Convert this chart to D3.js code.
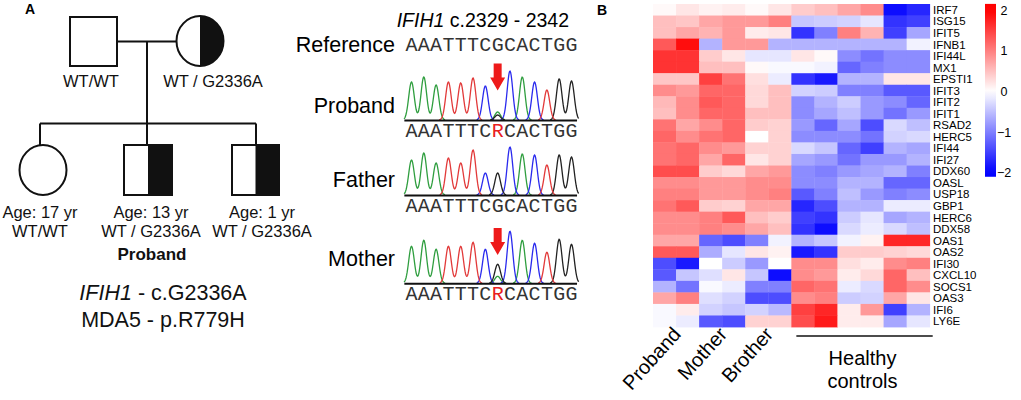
<!DOCTYPE html>
<html><head><meta charset="utf-8">
<script src="https://cdn.jsdelivr.net/npm/d3@7"></script>
<style>body{margin:0;background:#fff}svg{display:block;font-family:"Liberation Sans",Arial,sans-serif}</style>
</head><body><svg id="c" width="1021" height="400"></svg>
<script>
// ---------- DATA ----------
const genes = ["IRF7","ISG15","IFIT5","IFNB1","IFI44L","MX1","EPSTI1","IFIT3","IFIT2","IFIT1","RSAD2","HERC5","IFI44","IFI27","DDX60","OASL","USP18","GBP1","HERC6","DDX58","OAS1","OAS2","IFI30","CXCL10","SOCS1","OAS3","IFI6","LY6E"];
const samples = ["P1","P2","M1","M2","B1","B2","H1","H2","H3","H4","H5","H6"];
const groupLabels = ["Proband","Mother","Brother"];
const groupSamples = [["P1","P2"],["M1","M2"],["B1","B2"]];
const controlLabel = ["Healthy","controls"];
const controlSamples = ["H1","H2","H3","H4","H5","H6"];
const expr = [
 [0.05,0.2,0.1,0.15,0.05,0.2,0.4,0.5,0.7,0.9,-1.9,-1.7],
 [0.5,0.45,0.7,0.8,0.8,1.0,-0.45,-0.4,-0.35,-0.2,-1.6,-1.5],
 [0.5,0.7,0.6,0.8,0.15,0.2,-1.6,-1.0,1.0,0.6,-1.5,-0.7],
 [1.3,1.9,-0.6,0.8,0.8,-0.6,-0.6,-0.6,-0.6,-0.6,-0.6,-0.1],
 [1.6,1.6,0.4,0.2,-0.2,-0.2,0.2,0.05,-0.9,-1.1,-0.9,-0.9],
 [1.6,1.6,0.5,0.5,0.05,-0.05,-0.05,-0.1,-1.2,-1.0,-0.9,-0.9],
 [0.45,0.45,1.5,1.1,0.25,-0.15,-1.6,-1.8,-0.6,-0.6,0.2,0.2],
 [0.9,0.8,1.2,1.2,0.3,0.5,-0.35,-0.4,-1.0,-1.0,-1.3,-1.3],
 [0.55,0.9,1.3,1.2,0.3,0.5,-0.9,-0.6,-0.4,-0.8,-0.9,-1.2],
 [0.5,0.9,1.2,1.2,0.5,0.5,-0.9,-0.7,-0.5,-0.8,-1.1,-0.8],
 [1.1,0.7,0.9,1.2,0.4,0.35,-0.8,-1.2,-0.7,-1.4,-0.3,-0.5],
 [1.2,0.9,1.1,1.2,0.0,0.35,-0.9,-0.9,-0.9,-1.1,-0.35,-0.3],
 [1.1,1.2,0.9,0.8,0.35,0.35,-0.3,-0.45,-1.2,-1.5,-0.6,-0.7],
 [1.1,1.2,0.7,1.2,0.2,0.35,-0.7,-0.8,-1.1,-0.8,-0.8,-0.6],
 [1.4,1.4,0.4,0.3,0.7,0.8,-0.9,-1.0,-0.8,-0.7,-0.6,-1.0],
 [0.9,0.9,0.8,0.8,0.9,0.9,-0.9,-0.9,-0.6,-0.6,-1.2,-1.2],
 [1.0,1.0,0.8,0.8,0.9,1.0,-1.3,-1.0,-0.5,-0.8,-1.0,-0.9],
 [1.1,1.3,0.4,0.35,0.7,0.7,-1.7,-1.4,-0.6,-0.6,-0.15,-0.15],
 [0.9,0.9,1.0,1.3,0.5,0.4,-1.5,-1.6,-0.4,-0.2,-0.7,-0.6],
 [0.9,0.9,1.0,0.9,0.7,0.5,-1.6,-1.9,-0.3,-0.15,-0.3,-0.5],
 [0.7,0.7,-1.2,-1.4,-1.0,-0.1,-0.6,-0.45,-0.1,0.1,1.7,1.7],
 [1.3,1.3,-0.65,-0.2,0.2,0.1,-1.8,-1.6,0.4,0.4,0.35,0.3],
 [-1.4,-1.8,0.0,-0.4,-0.8,0.0,0.9,0.9,0.25,0.15,0.9,1.0],
 [-1.3,-0.45,-0.25,0.2,-0.45,-1.9,0.9,0.8,0.15,0.3,1.2,0.5],
 [-0.6,-1.1,-0.05,-0.15,-1.0,-1.0,1.2,1.1,-0.15,-0.3,1.2,0.9],
 [0.7,1.0,-0.25,-0.35,-1.4,-1.4,0.9,1.0,-0.4,-0.35,0.7,0.2],
 [-0.05,0.15,-0.35,-0.45,-0.35,-0.55,1.5,1.7,0.15,0.8,-1.5,-0.6],
 [-0.05,-0.15,-1.3,-1.4,0.35,0.35,1.4,1.8,0.15,0.15,-0.7,-0.2]
];
const legendTicks = [2,1,0,-1,-2];

// chromatograms
const refSeq = ["A","A","A","T","T","T","C","G","C","A","C","T","G","G"];
const probandCalls = ["A","A","A","T","T","T","C","R","C","A","C","T","G","G"];
const motherCalls  = ["A","A","A","T","T","T","C","R","C","A","C","T","G","G"];
const fatherCalls  = ["A","A","A","T","T","T","C","G","C","A","C","T","G","G"];
const probandPeaks = [38,43,35,38,37,42,34,5,49,43,38,30,41,39];
const fatherPeaks  = [35,42,32,37,32,45,22,22,48,41,40,30,40,38];
const motherPeaks  = [37,43,34,37,37,41,34,19,52,43,40,31,44,39];
const probandMinor = [{i:7, base:"A", h:8}];
const motherMinor  = [{i:7, base:"A", h:7}];
const fatherMinor  = [];
const traceNames = ["Proband","Father","Mother"];

// pedigree
const parentLabels = ["WT/WT","WT / G2336A"];
const childAges = ["Age: 17 yr","Age: 13 yr","Age: 1 yr"];
const childGeno = ["WT/WT","WT / G2336A","WT / G2336A"];

// ---------- DRAW ----------
const svg = d3.select("#c");
svg.append("rect").attr("width",1021).attr("height",400).attr("fill","#fff");

// Panel labels
svg.append("text").attr("x",25).attr("y",14).attr("font-size",14).attr("font-weight","bold").text("A");
svg.append("text").attr("x",597).attr("y",15).attr("font-size",14).attr("font-weight","bold").text("B");

// ---- Pedigree ----
const ped = svg.append("g").attr("stroke","#111").attr("stroke-width",2).attr("fill","none");
ped.append("line").attr("x1",117).attr("x2",176).attr("y1",41.5).attr("y2",41.5);
ped.append("line").attr("x1",147).attr("x2",147).attr("y1",41.5).attr("y2",123.5);
ped.append("line").attr("x1",40).attr("x2",256).attr("y1",123.5).attr("y2",123.5);
[40,147,256].forEach(x=>ped.append("line").attr("x1",x).attr("x2",x).attr("y1",123.5).attr("y2",145));
// father
ped.append("rect").attr("x",70).attr("y",17).attr("width",47).attr("height",49).attr("fill","#fff");
// mother
svg.append("path").attr("d",`M200,16 A23.5,25 0 0 1 200,66 Z`).attr("fill","#111");
ped.append("ellipse").attr("cx",200).attr("cy",41).attr("rx",23.5).attr("ry",25);
// daughter
ped.append("ellipse").attr("cx",43).attr("cy",170).attr("rx",23.5).attr("ry",25).attr("fill","#fff");
// sons
[[124,172],[232,279]].forEach(([a,b])=>{
  const m=(a+b)/2;
  svg.append("rect").attr("x",m).attr("y",145).attr("width",b-m).attr("height",50).attr("fill","#111");
  ped.append("rect").attr("x",a).attr("y",145).attr("width",b-a).attr("height",50);
});
const pt = svg.append("g").attr("font-size",16.5).attr("text-anchor","middle").attr("fill","#111");
pt.append("text").attr("x",91).attr("y",87).text(parentLabels[0]);
pt.append("text").attr("x",213).attr("y",87).text(parentLabels[1]);
[40,151,262].forEach((x,i)=>{
  pt.append("text").attr("x",x).attr("y",218).text(childAges[i]);
  pt.append("text").attr("x",x).attr("y",237).text(childGeno[i]);
});
pt.append("text").attr("x",152).attr("y",260).attr("font-size",17).attr("font-weight","bold").text("Proband");
const mut = svg.append("g").attr("font-size",21.5).attr("text-anchor","middle").attr("fill","#111");
const t1 = mut.append("text").attr("x",163).attr("y",300);
t1.append("tspan").attr("font-style","italic").text("IFIH1");
t1.append("tspan").text(" - c.G2336A");
mut.append("text").attr("x",163).attr("y",327).text("MDA5 - p.R779H");

// ---- Chromatograms ----
const baseColor = {A:"#2f9e3f",C:"#2a2aee",G:"#222",T:"#e23a3a"};
const xs = d3.scaleLinear().domain([0,13]).range([411.5,571.5]);
const hs = d3.scaleLinear().domain([0,50]).range([0,50]);
const sigma = 2.8;

const ct = svg.append("g");
const tt = ct.append("text").attr("x",396.7).attr("y",26.7).attr("font-size",19.5);
tt.append("tspan").attr("font-style","italic").text("IFIH1");
tt.append("tspan").text(" c.2329 - 2342");
ct.append("text").attr("x",395).attr("y",51.7).attr("font-size",21.5).attr("text-anchor","end").text("Reference");

function seqText(calls, y){
  ct.append("g").selectAll("text").data(calls).join("text")
    .attr("x",(d,i)=>xs(i)).attr("y",y).attr("text-anchor","middle")
    .style("font-family","'Liberation Mono','Courier New',monospace").attr("font-size",20)
    .attr("fill",d=>d==="R"?"#e8201e":"#333").text(d=>d);
}
seqText(refSeq,50.5);

function chrom(name, peaks, minor, calls, baseY, labelY, arrowY){
  ct.append("text").attr("x",395).attr("y",labelY).attr("font-size",21.5).attr("text-anchor","end").text(name);
  const all = peaks.map((h,i)=>({i, base:refSeq[i], h})).concat(minor);
  ["A","C","G","T"].forEach(b=>{
    const pk = all.filter(p=>p.base===b);
    const pts = d3.range(xs(-0.6), xs(13.6), 0.5).map(x=>({x, v:d3.sum(pk,p=>hs(p.h)*Math.exp(-Math.pow(x-xs(p.i),2)/(2*sigma*sigma)))}));
    ct.append("path").attr("fill","none").attr("stroke",baseColor[b]).attr("stroke-width",1.3)
      .attr("d",d3.line().defined(d=>d.v>0.15).x(d=>d.x).y(d=>baseY-d.v)(pts));
  });
  ct.append("line").attr("x1",xs(-0.58)).attr("x2",xs(13.45)).attr("y1",baseY+0.5).attr("y2",baseY+0.5).attr("stroke","#111").attr("stroke-width",2);
  seqText(calls, baseY+16.5);
  if(arrowY!=null){
    const cx = xs(calls.indexOf("R"));
    ct.append("path").attr("fill","#ee1a1a")
      .attr("d",`M${cx-4},${arrowY} L${cx+4},${arrowY} L${cx+4},${arrowY+14} L${cx+7.5},${arrowY+14} L${cx},${arrowY+27} L${cx-7.5},${arrowY+14} L${cx-4},${arrowY+14} Z`);
  }
}
chrom(traceNames[0], probandPeaks, probandMinor, probandCalls, 120, 113.3, 63.5);
chrom(traceNames[1], fatherPeaks, fatherMinor, fatherCalls, 195, 186.7, null);
chrom(traceNames[2], motherPeaks, motherMinor, motherCalls, 283.3, 266, 228);

// ---- Heatmap ----
const hx = d3.scaleBand().domain(samples).range([653,929.7]);
const hy = d3.scaleBand().domain(genes).range([4,327]);
const col = d3.scaleLinear().domain([-2,0,2]).range(["#0000ff","#ffffff","#ff0000"]).clamp(true);
const cells = [];
genes.forEach((g,r)=>samples.forEach((s,c)=>cells.push({g,s,v:expr[r][c]})));
svg.append("g").selectAll("rect").data(cells).join("rect")
  .attr("x",d=>hx(d.s)).attr("y",d=>hy(d.g)).attr("width",hx.bandwidth()+0.4).attr("height",hy.bandwidth()+0.4)
  .attr("fill",d=>col(d.v));
svg.append("g").attr("font-size",11.5).selectAll("text").data(genes).join("text")
  .attr("x",933).attr("y",d=>hy(d)+hy.bandwidth()/2).attr("dy","0.36em").text(d=>d);

// legend
const ly = d3.scaleLinear().domain([-2,2]).range([172.7,10]);
const grad = svg.append("defs").append("linearGradient").attr("id","lg").attr("x1",0).attr("x2",0).attr("y1",0).attr("y2",1);
d3.range(0,1.0001,0.05).forEach(t=>{
  const v = ly.invert(ly(2.15)+t*(ly(-2.1)-ly(2.15)));
  grad.append("stop").attr("offset",t).attr("stop-color",col(v));
});
svg.append("rect").attr("x",985).attr("y",ly(2.15)).attr("width",11).attr("height",ly(-2.1)-ly(2.15)).attr("fill","url(#lg)");
svg.append("g").attr("font-size",12.5).selectAll("text").data(legendTicks).join("text")
  .attr("x",d=>d<0?997:1000.5).attr("y",d=>ly(d)).attr("dy","0.36em").text(d=>d<0?"\u2212"+Math.abs(d):d);

// column labels
svg.append("g").attr("font-size",20).selectAll("text").data(groupLabels).join("text")
  .attr("text-anchor","end")
  .attr("transform",(d,i)=>{const s=groupSamples[i]; const cx=(hx(s[0])+hx(s[1])+hx.bandwidth())/2; return `translate(${cx+6},${335}) rotate(-48)`;})
  .text(d=>d);
const c0 = hx(controlSamples[0]), c1 = hx(controlSamples[controlSamples.length-1])+hx.bandwidth();
svg.append("line").attr("x1",c0+5).attr("x2",c1+3).attr("y1",336).attr("y2",336).attr("stroke","#111").attr("stroke-width",1.5);
svg.append("g").attr("font-size",20).attr("text-anchor","middle").selectAll("text").data(controlLabel).join("text")
  .attr("x",(c0+c1)/2+2).attr("y",(d,i)=>365+i*23).text(d=>d);
</script></body></html>
